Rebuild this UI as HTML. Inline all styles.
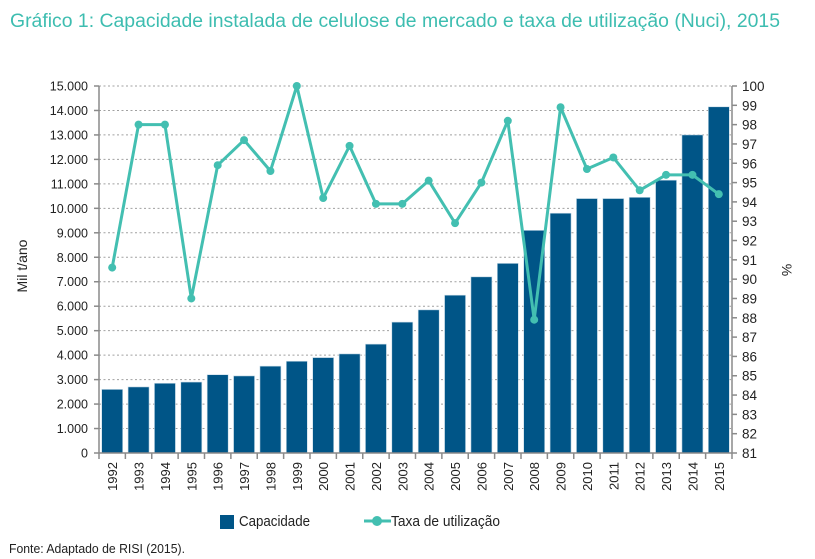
<!DOCTYPE html>
<html><head><meta charset="utf-8"><style>
html,body{margin:0;padding:0;background:#fff;}
svg{display:block;font-family:"Liberation Sans",sans-serif;}
</style></head><body>
<svg width="815" height="559" viewBox="0 0 815 559" xmlns="http://www.w3.org/2000/svg">
<text x="10" y="27" font-size="19" fill="#3dbdb0" textLength="770" lengthAdjust="spacingAndGlyphs">Gráfico 1: Capacidade instalada de celulose de mercado e taxa de utilização (Nuci), 2015</text>
<g id="grid" stroke="#a0a0a0" stroke-width="1" stroke-dasharray="2,2.5"></g>
<g id="bars" fill="#005587" stroke="#c8dce8" stroke-width="0.6"></g>
<g id="axes" stroke="#8a8a8a" stroke-width="1.5" fill="none"></g>
<g id="lt" font-size="12.5" fill="#222" text-anchor="end"></g>
<g id="rt" font-size="13.5" fill="#222"></g>
<g id="xt" font-size="13" fill="#222"></g>
<polyline id="line" fill="none" stroke="#43bfb1" stroke-width="3" stroke-linejoin="round"/>
<g id="dots" fill="#43bfb1"></g>
<text transform="translate(27,266) rotate(-90)" font-size="14" fill="#222" text-anchor="middle">Mil t/ano</text>
<text transform="translate(782,270) rotate(90)" font-size="14" fill="#222" text-anchor="middle">%</text>
<rect x="220" y="515" width="14" height="14" fill="#005587"/>
<text x="239" y="526" font-size="14.5" fill="#222" textLength="71" lengthAdjust="spacingAndGlyphs">Capacidade</text>
<line x1="364" y1="521" x2="391" y2="521" stroke="#43bfb1" stroke-width="3"/>
<circle cx="377" cy="521" r="5" fill="#43bfb1"/>
<text x="391" y="526" font-size="14.5" fill="#222" textLength="109" lengthAdjust="spacingAndGlyphs">Taxa de utilização</text>
<text x="9" y="553" font-size="13" fill="#222" textLength="176" lengthAdjust="spacingAndGlyphs">Fonte: Adaptado de RISI (2015).</text>
</svg>
<script>
const NS="http://www.w3.org/2000/svg";
function el(p,t,a,txt){const e=document.createElementNS(NS,t);for(const k in a)e.setAttribute(k,a[k]);if(txt!=null)e.textContent=txt;document.getElementById(p).appendChild(e);return e;}
const L=99,R=732,B=453,T=86,slot=(R-L)/24;
const yl=v=>B-(B-T)*v/15000, yr=v=>B-(B-T)*(v-81)/19;
const cap=[2600,2700,2850,2900,3200,3150,3550,3750,3900,4050,4450,5350,5850,6450,7200,7750,9100,9800,10400,10400,10450,11150,13000,14150];
const tax=[90.6,98,98,89,95.9,97.2,95.6,100,94.2,96.9,93.9,93.9,95.1,92.9,95,98.2,87.9,98.9,95.7,96.3,94.6,95.4,95.4,94.4];
for(let v=1000;v<=15000;v+=1000){const y=yl(v);el("grid","line",{x1:L,y1:y,x2:R,y2:y});}
for(let v=0;v<=15000;v+=1000){const y=yl(v);el("axes","line",{x1:L-5,y1:y,x2:L,y2:y});el("lt","text",{x:88,y:y+4.5},(v===0?"0":(v/1000)+".000"));}
for(let v=81;v<=100;v++){const y=yr(v);el("axes","line",{x1:R,y1:y,x2:R+5,y2:y});el("rt","text",{x:742,y:y+5},String(v));}
el("axes","line",{x1:L,y1:T,x2:L,y2:B});el("axes","line",{x1:R,y1:T,x2:R,y2:B});el("axes","line",{x1:L,y1:B,x2:R,y2:B});
let pts=[];
for(let i=0;i<24;i++){
 const cx=L+slot*(i+0.5);
 el("bars","rect",{x:cx-10.5,y:yl(cap[i]),width:21,height:B-yl(cap[i])});
 el("axes","line",{x1:L+slot*i,y1:B,x2:L+slot*i,y2:B+6});
 const t=el("xt","text",{transform:`translate(${cx+5},${462}) rotate(-90)`,"text-anchor":"end"},String(1992+i));
 const y=yr(tax[i]);pts.push(cx+","+y);el("dots","circle",{cx:cx,cy:y,r:4});
}
el("axes","line",{x1:R,y1:B,x2:R,y2:B+6});
document.getElementById("line").setAttribute("points",pts.join(" "));
</script>
</body></html>
